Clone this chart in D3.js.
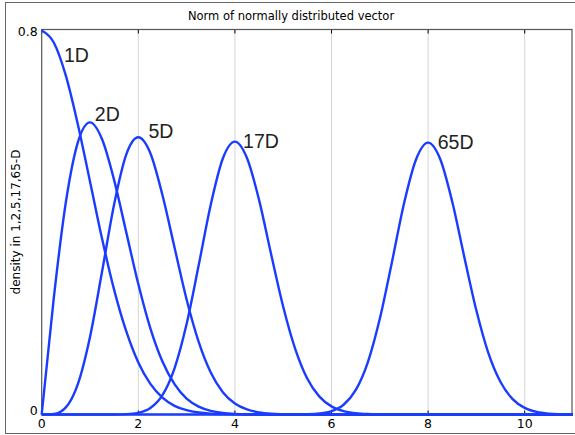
<!DOCTYPE html>
<html><head><meta charset="utf-8">
<script src="https://cdn.jsdelivr.net/npm/d3@7/dist/d3.min.js"></script>
<style>html,body{margin:0;padding:0;background:#fff;}svg{display:block;}</style>
</head><body>
<script>
const title = "Norm of normally distributed vector";
const yLabel = "density in 1,2,5,17,65-D";
const xTicks = [0, 2, 4, 6, 8, 10];
const yTicks = [0, 0.8];
const xs = [0,0.25,0.5,0.75,1,1.25,1.5,1.75,2,2.25,2.5,2.75,3,3.25,3.5,3.75,4,4.25,4.5,4.75,5,5.25,5.5,5.75,6,6.25,6.5,6.75,7,7.25,7.5,7.75,8,8.25,8.5,8.75,9,9.25,9.5,9.75,10,10.25,10.5,10.75,11];
const seriesNames = ["1D", "2D", "5D", "17D", "65D"];
const d1 = [0.798,0.773,0.704,0.602,0.484,0.365,0.259,0.173,0.108,0.0635,0.035,0.018,0.0089,0.0041,0.0017,0.0007,0.0003,0,0,0,0,0,0,0,0,0,0,0,0,0,0,0,0,0,0,0,0,0,0,0,0,0,0,0,0];
const d2 = [0,0.242,0.441,0.566,0.607,0.572,0.487,0.379,0.271,0.179,0.110,0.063,0.033,0.0165,0.0077,0.0033,0.0013,0.0005,0.0002,0,0,0,0,0,0,0,0,0,0,0,0,0,0,0,0,0,0,0,0,0,0,0,0,0,0];
const d5 = [0,0.001,0.0147,0.0635,0.161,0.297,0.437,0.540,0.576,0.543,0.456,0.347,0.239,0.151,0.0873,0.0464,0.0228,0.0104,0.0044,0.0017,0.0006,0,0,0,0,0,0,0,0,0,0,0,0,0,0,0,0,0,0,0,0,0,0,0,0];
const d17 = [0,0,0,0,0,0,0.0001,0.0007,0.0035,0.0135,0.0402,0.096,0.188,0.310,0.436,0.532,0.567,0.533,0.446,0.333,0.224,0.136,0.0744,0.0372,0.0169,0.0070,0.0027,0.0009,0.0003,0,0,0,0,0,0,0,0,0,0,0,0,0,0,0,0];
const d65 = [0,0,0,0,0,0,0,0,0,0,0,0,0,0,0,0,0,0,0,0,0,0.0001,0.0005,0.0020,0.0069,0.0202,0.0505,0.108,0.199,0.316,0.438,0.530,0.565,0.531,0.442,0.327,0.216,0.127,0.0674,0.0320,0.0137,0.0053,0.0018,0.0006,0.0002];
const seriesValues = [d1, d2, d5, d17, d65];
// label anchor points in data units (x, y)
const labelX = [0.46, 1.10, 2.21, 4.17, 8.20];
const labelY = [0.732, 0.610, 0.575, 0.553, 0.551];

const W = 575, H = 435;
const svg = d3.select("body").append("svg").attr("width", W).attr("height", H);
const pL = 41.7, pR = 573, pT = 29.5, pB = 414.5;
const x = d3.scaleLinear().domain([0, 11]).range([pL, pR]);
const y = d3.scaleLinear().domain([0, 0.8]).range([pB, pT]);
const blue = "#1a3cff";
const font = "DejaVu Sans";

// outer frame
svg.append("rect").attr("x", 5.5).attr("y", 2.5).attr("width", 572).attr("height", 431)
  .attr("fill", "none").attr("stroke", "#666").attr("stroke-width", 1);

// title
svg.append("text").attr("x", 291).attr("y", 20).attr("text-anchor", "middle")
  .attr("font-family", font).attr("font-size", 11.5).attr("fill", "#000").text(title);

// grid lines
svg.append("g").selectAll("line").data(xTicks.filter(d => d > 0)).join("line")
  .attr("x1", d => x(d)).attr("x2", d => x(d)).attr("y1", pT).attr("y2", pB)
  .attr("stroke", "#d4d4d4").attr("stroke-width", 1);

// ticks top & bottom
const tg = svg.append("g");
tg.selectAll("line.t").data(xTicks).join("line").attr("class","t")
  .attr("x1", d => x(d)).attr("x2", d => x(d)).attr("y1", pT).attr("y2", pT + 4)
  .attr("stroke", "#000").attr("stroke-width", 1);
tg.selectAll("line.b").data(xTicks).join("line").attr("class","b")
  .attr("x1", d => x(d)).attr("x2", d => x(d)).attr("y1", pB).attr("y2", pB - 4)
  .attr("stroke", "#000").attr("stroke-width", 1);

// plot border
svg.append("rect").attr("x", pL).attr("y", pT).attr("width", pR - pL - 1).attr("height", pB - pT)
  .attr("fill", "none").attr("stroke", "#555").attr("stroke-width", 1.2);

// x tick labels
svg.append("g").selectAll("text").data(xTicks).join("text")
  .attr("x", d => x(d)).attr("y", pB + 13).attr("text-anchor", "middle")
  .attr("font-family", font).attr("font-size", 12.5).attr("fill", "#000").text(d => d);
// y tick labels
svg.append("g").selectAll("text").data(yTicks).join("text")
  .attr("x", pL - 4).attr("y", d => y(d) + (d === 0 ? 0 : 6)).attr("text-anchor", "end")
  .attr("font-family", font).attr("font-size", 12.5).attr("fill", "#000").text(d => d);

// y label
svg.append("text").attr("transform", `translate(20,${(pT + pB) / 2}) rotate(-90)`)
  .attr("text-anchor", "middle").attr("font-family", font).attr("font-size", 12)
  .attr("fill", "#000").text(yLabel);

// curves
const line = d3.line().x(d => x(d[0])).y(d => y(d[1])).curve(d3.curveMonotoneX);
seriesValues.forEach(vals => {
  svg.append("path").datum(xs.map((xv, i) => [xv, vals[i]]))
    .attr("d", line).attr("fill", "none").attr("stroke", blue)
    .attr("stroke-width", 2.4).attr("stroke-linejoin", "round");
});

// curve labels
svg.append("g").selectAll("text").data(seriesNames).join("text")
  .attr("x", (d, i) => x(labelX[i])).attr("y", (d, i) => y(labelY[i]))
  .attr("font-family", "Liberation Sans").attr("font-size", 19.5).attr("fill", "#222")
  .text(d => d);
</script>
</body></html>
